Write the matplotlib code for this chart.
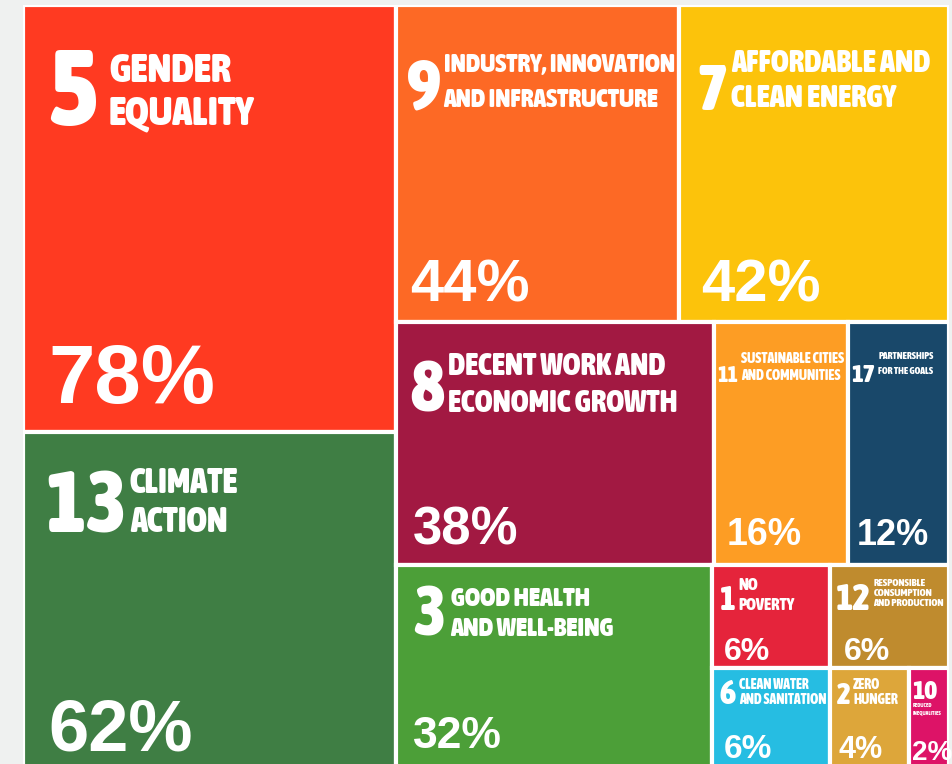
import matplotlib
matplotlib.use("Agg")
import matplotlib.pyplot as plt
from matplotlib import font_manager
from matplotlib.patches import Rectangle

# SDG goals and share of mentions (%)
goals = [5, 13, 9, 7, 8, 11, 17, 3, 1, 12, 6, 2, 10]
shares = [78, 62, 44, 42, 38, 16, 12, 32, 6, 6, 6, 4, 2]
titles = [
    ["GENDER", "EQUALITY"],
    ["CLIMATE", "ACTION"],
    ["INDUSTRY, INNOVATION", "AND INFRASTRUCTURE"],
    ["AFFORDABLE AND", "CLEAN ENERGY"],
    ["DECENT WORK AND", "ECONOMIC GROWTH"],
    ["SUSTAINABLE CITIES", "AND COMMUNITIES"],
    ["PARTNERSHIPS", "FOR THE GOALS"],
    ["GOOD HEALTH", "AND WELL-BEING"],
    ["NO", "POVERTY"],
    ["RESPONSIBLE", "CONSUMPTION", "AND PRODUCTION"],
    ["CLEAN WATER", "AND SANITATION"],
    ["ZERO", "HUNGER"],
    ["REDUCED", "INEQUALITIES"],
]
colors = ["#FF3A21", "#3F7E44", "#FD6925", "#FCC30B", "#A21942", "#FD9D24",
          "#19486A", "#4C9F38", "#E5243B", "#BF8B2E", "#26BDE2", "#DDA63A",
          "#DD1367"]

# slicing order of the treemap: 'h' = side by side, 'v' = stacked
layout = ("h", [("v", [5, 13]),
                ("v", [("h", [9, 7]),
                       ("h", [8, 11, 17]),
                       ("h", [3, ("v", [("h", [1, 12]), ("h", [6, 2, 10])])])])])

# text styling per goal (pixels):
# (num size, num dx, num baseline, title size, title dx, title baseline, line gap,
#  title width, pct size, pct dx, pct offset from bottom)
styles = {
    5: (77, 25, 120, 29, 86, 77, 43, 129, 60, 25, 29),
    13: (66, 22, 101, 25, 107, 61, 39, 98, 52, 25, 21),
    9: (62, 11, 105, 22, 48, 67, 35, 223, 43, 15, 20),
    7: (62, 19, 105, 22, 52, 67, 35, 179, 43, 22, 20),
    8: (60, 15, 90, 22, 52, 53, 37, 190, 38, 17, 20),
    11: (30, 3, 60, 10, 27, 41, 17, 101, 27, 12, 20),
    17: (30, 3, 60, 7, 30, 37, 15, 63, 26, 8, 20),
    3: (50, 18, 71, 19, 55, 41, 30, 148, 32, 17, 23),
    1: (30, 8, 45, 12, 27, 25, 20, 53, 23, 12, 8),
    12: (30, 5, 45, 7.5, 43, 21, 10, 70, 23, 13, 8),
    6: (27, 8, 36, 10, 27, 21, 15, 75, 24, 12, 13),
    2: (27, 6, 36, 10, 23, 21, 15, 38, 22, 8, 13),
    10: (19, 3, 31, 4, 3, 39, 7, 40, 20, 3, 11),
}

W, H = 926, 766


def pick_condensed():
    for f in font_manager.fontManager.ttflist:
        name = f.name.lower()
        w = f.weight
        bold = w in ("bold", "heavy", "black") or (isinstance(w, int) and w >= 600)
        if bold and ("condensed" in name or "narrow" in name) and "mono" not in name \
                and "serif" not in name:
            return font_manager.FontProperties(fname=f.fname)
    return font_manager.FontProperties(family=["Roboto", "DejaVu Sans"], weight="bold")


def total(node):
    if isinstance(node, tuple):
        return sum(total(c) for c in node[1])
    return shares[goals.index(node)]


def slice_layout(node, x, y, w, h, out):
    if not isinstance(node, tuple):
        out[node] = (x, y, w, h)
        return
    kind, children = node
    s = total(node)
    for c in children:
        part = total(c) / s
        if kind == "h":
            slice_layout(c, x, y, w * part, h, out)
            x += w * part
        else:
            slice_layout(c, x, y, w, h * part, out)
            y += h * part


cond = pick_condensed()
pct_font = font_manager.FontProperties(family=["Liberation Sans", "DejaVu Sans"],
                                       weight="bold")


def fp(base, size):
    p = base.copy()
    p.set_size(size)
    return p


def fit(texts, size, width, renderer):
    # shrink a group of texts so the widest one fits the given width
    widest = max(t.get_window_extent(renderer).width for t in texts)
    if widest > width > 0:
        size = size * width / widest
        for t in texts:
            t.set_fontsize(size)


fig = plt.figure(figsize=(9.53, 7.64), dpi=100, facecolor="#eff1f0")
ax = fig.add_axes([23 / 953, 1 - 771 / 764, W / 953, H / 764])
ax.set_xlim(0, W)
ax.set_ylim(H, 0)
ax.axis("off")
renderer = fig.canvas.get_renderer()

rects = {}
slice_layout(layout, 0, 0, W, H, rects)

for g, lines, col in zip(goals, titles, colors):
    x, y, w, h = rects[g]
    rect = Rectangle((x, y), w, h, facecolor=col, edgecolor="white", linewidth=3)
    ax.add_patch(rect)
    ns, ndx, nb, ts, tdx, tb, gap, tw, ps, pdx, pb = styles[g]
    num = ax.text(x + ndx, y + nb, str(g), color="white", va="baseline",
                  fontproperties=fp(cond, ns))
    # title sits right of the number, except in the narrowest tile where it is below
    room = tdx - ndx - 3 if tdx > ndx + 10 else w - ndx - 2
    fit([num], ns, room, renderer)
    heads = []
    for i, line in enumerate(lines):
        heads.append(ax.text(x + tdx, y + tb + i * gap, line, color="white",
                             va="baseline", fontproperties=fp(cond, ts)))
    if g != 10:
        fit(heads, ts, min(tw * 1.25, w - tdx - 4), renderer)
    pct = ax.text(x + pdx, y + h - pb, f"{shares[goals.index(g)]}%",
                  color="white", va="baseline", fontproperties=fp(pct_font, ps))
    for t in [num, pct] + heads:
        t.set_clip_path(rect)

fig.savefig("out.png", dpi=100, facecolor=fig.get_facecolor())
